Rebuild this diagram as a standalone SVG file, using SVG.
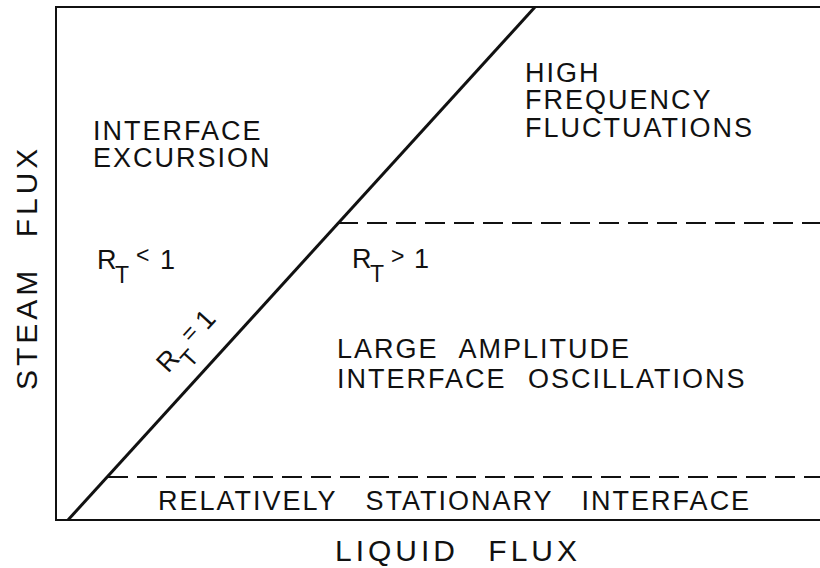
<svg xmlns="http://www.w3.org/2000/svg" width="820" height="568" viewBox="0 0 820 568">
<style>
.t{font-family:"Liberation Sans","DejaVu Sans",sans-serif;fill:#111;font-size:27px;letter-spacing:2px}
.ax{font-size:30px;letter-spacing:4px;word-spacing:17px}
.sub{font-size:23px}
.big{font-size:27px}
.ln{stroke:#111;fill:none}
.dash{stroke:#111;stroke-width:2.2;stroke-dasharray:20 9;fill:none}
</style>
<rect width="820" height="568" fill="#fff"/>
<g id="frame">
<polyline class="ln" stroke-width="2" points="820,7 56,7 56,520 820,520"/>
</g>
<g id="connectors">
<line class="ln" stroke-width="3" x1="68" y1="520" x2="535" y2="7"/>
<line class="dash" x1="338" y1="223" x2="820" y2="223"/>
<line class="dash" x1="108" y1="477" x2="820" y2="477"/>
</g>
<g id="interface-excursion">
<text class="t" x="93" y="140">INTERFACE</text>
<text class="t" x="93" y="167">EXCURSION</text>
</g>
<g id="high-frequency">
<text class="t" x="525" y="82">HIGH</text>
<text class="t" x="525" y="109">FREQUENCY</text>
<text class="t" x="525" y="137">FLUCTUATIONS</text>
</g>
<g id="rt-less">
<text class="t" x="97" y="269">R<tspan class="sub" x="115" dy="14">T</tspan><tspan class="sub" x="136" dy="-20">&lt;</tspan><tspan class="big" x="160" dy="6">1</tspan></text>
</g>
<g id="rt-greater">
<text class="t" x="352" y="268">R<tspan class="sub" x="370" dy="14">T</tspan><tspan class="sub" x="391" dy="-18">&gt;</tspan><tspan class="big" x="414" dy="4">1</tspan></text>
</g>
<g id="rt-equal" transform="translate(168,374) rotate(-47.7)">
<text class="t" x="0" y="0">R<tspan class="sub" x="19" dy="13">T</tspan><tspan class="sub" x="38" dy="-17">=</tspan><tspan class="big" x="58" dy="4">1</tspan></text>
</g>
<g id="large-amplitude">
<text class="t" x="337" y="358" style="word-spacing:12px">LARGE AMPLITUDE</text>
<text class="t" x="337" y="388" style="word-spacing:12px">INTERFACE OSCILLATIONS</text>
</g>
<g id="stationary">
<text class="t" x="158" y="510" style="word-spacing:19px">RELATIVELY STATIONARY INTERFACE</text>
</g>
<g id="axes">
<text class="t ax" x="335" y="561">LIQUID FLUX</text>
<text class="t ax" transform="translate(37,390) rotate(-90)">STEAM FLUX</text>
</g>
</svg>
